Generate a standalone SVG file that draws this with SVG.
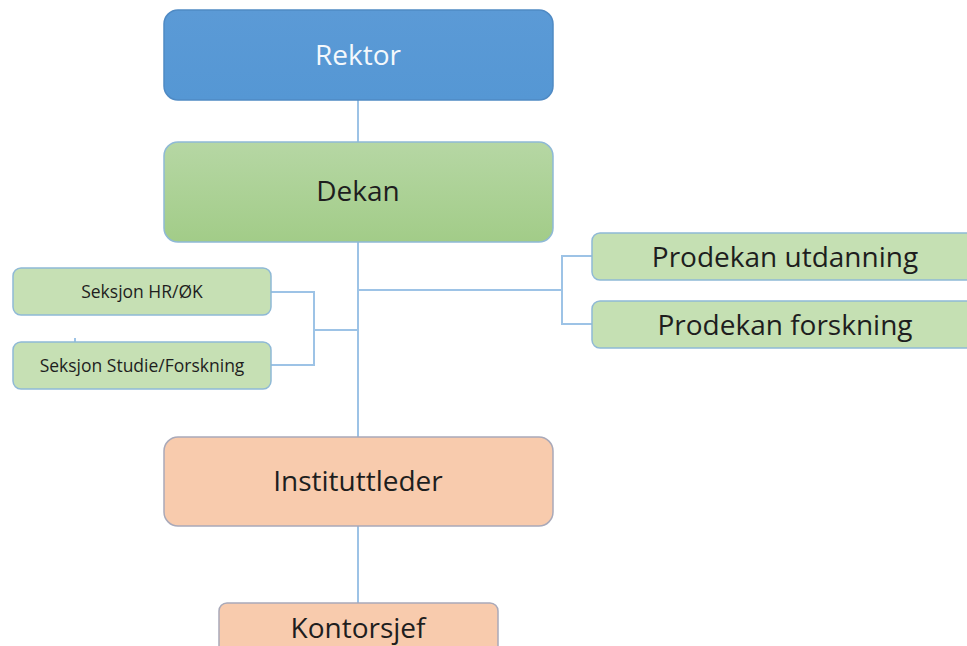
<svg xmlns="http://www.w3.org/2000/svg" width="967" height="646" viewBox="0 0 967 646">
<defs>
<linearGradient id="gGreen" x1="0" y1="0" x2="0" y2="1"><stop offset="0" stop-color="#b6d7a4"/><stop offset="1" stop-color="#a2cc88"/></linearGradient>
<linearGradient id="gBlue" x1="0" y1="0" x2="0" y2="1"><stop offset="0" stop-color="#5b9ad6"/><stop offset="1" stop-color="#5597d4"/></linearGradient>
</defs>
<style>
.conn{stroke:#9dc3e6;stroke-width:2;fill:none}
.blue{fill:url(#gBlue);stroke:#4f8ac4;stroke-width:1.5}
.green{fill:url(#gGreen);stroke:#8fb9d6;stroke-width:1.5}
.lgreen{fill:#c6e0b4;stroke:#8fb9d6;stroke-width:1.5}
.orange{fill:#f8cbad;stroke:#a9a9b9;stroke-width:1.5}
text{font-family:"Open Sans","Liberation Sans",sans-serif;text-anchor:middle;fill:#1e1e1e}
.big{font-size:28px}
.small{font-size:17.5px}
</style>
<g id="connectors">
<line class="conn" x1="358" y1="100" x2="358" y2="142"/>
<line class="conn" x1="358" y1="242" x2="358" y2="437"/>
<polyline class="conn" points="358,290 562,290"/>
<polyline class="conn" points="592,256 562,256 562,324 592,324"/>
<polyline class="conn" points="271,292 314,292 314,365 271,365"/>
<line class="conn" x1="314" y1="330" x2="358" y2="330"/>
<line class="conn" x1="75" y1="338" x2="75" y2="344"/>
<line class="conn" x1="358" y1="526" x2="358" y2="603"/>
</g>
<g id="rektor">
<rect class="blue" x="164" y="10" width="389" height="90" rx="14"/>
<text class="big" x="358" y="65" style="fill:#f4f8fc">Rektor</text>
</g>
<g id="dekan">
<rect class="green" x="164" y="142" width="389" height="100" rx="14"/>
<text class="big" x="358" y="201">Dekan</text>
</g>
<g id="prodekan-utdanning">
<rect class="lgreen" x="592" y="233" width="390" height="47" rx="8" style="fill:#c5e0b3"/>
<text class="big" x="785" y="267">Prodekan utdanning</text>
</g>
<g id="prodekan-forskning">
<rect class="lgreen" x="592" y="301" width="390" height="47" rx="8" style="fill:#c5e0b3"/>
<text class="big" x="785" y="335">Prodekan forskning</text>
</g>
<g id="seksjon-hr">
<rect class="lgreen" x="13" y="268" width="258" height="47" rx="8"/>
<text class="small" x="142" y="298">Seksjon HR/ØK</text>
</g>
<g id="seksjon-studie">
<rect class="lgreen" x="13" y="342" width="258" height="47" rx="8"/>
<text class="small" x="142" y="372">Seksjon Studie/Forskning</text>
</g>
<g id="instituttleder">
<rect class="orange" x="164" y="437" width="389" height="89" rx="14"/>
<text class="big" x="358" y="491">Instituttleder</text>
</g>
<g id="kontorsjef">
<rect class="orange" x="219" y="603" width="279" height="60" rx="8"/>
<text class="big" x="358" y="638">Kontorsjef</text>
</g>
</svg>
